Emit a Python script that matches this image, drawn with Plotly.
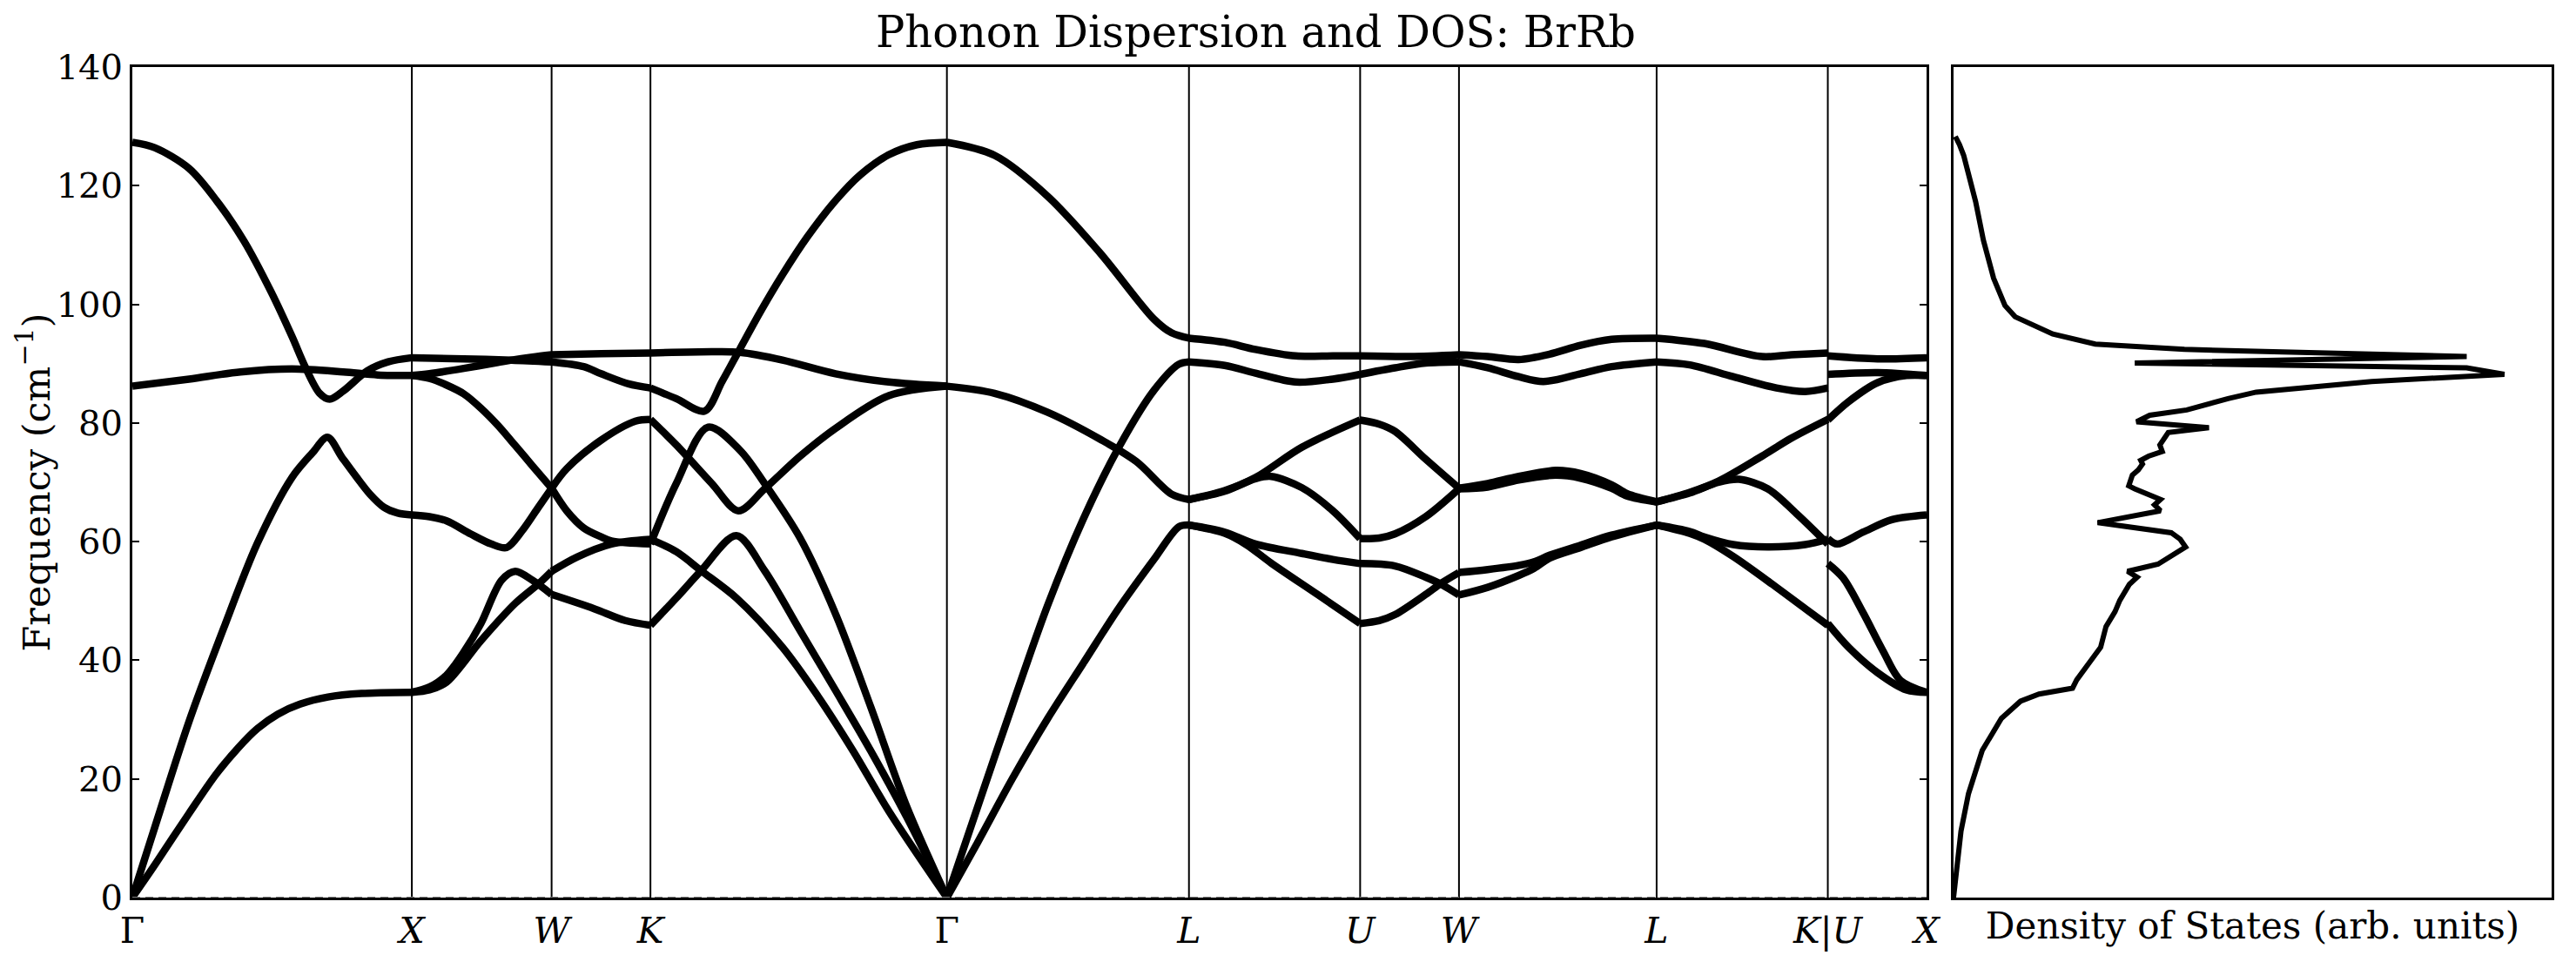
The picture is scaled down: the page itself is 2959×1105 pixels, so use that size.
import plotly.graph_objects as go

# ---------------- data ----------------
q_ticks = [0.0, 1.0, 1.5, 1.8536, 2.9142, 3.7802, 4.3926, 4.7462, 5.4533, 6.0657, 6.4193]
q_labels = ["Γ", "<i>X</i>", "<i>W</i>", "<i>K</i>", "Γ", "<i>L</i>", "<i>U</i>",
            "<i>W</i>", "<i>L</i>", "<i>K</i>|<i>U</i>", "<i>X</i>"]
freq_ticks = [0, 20, 40, 60, 80, 100, 120, 140]

# Γ – X
seg_GX = [
    ([0, 0.08, 0.203, 0.301, 0.399, 0.4975, 0.571, 0.62, 0.67, 0.706, 0.755, 0.841, 0.915, 1.0],
     [127.3, 126.4, 122.9, 117.5, 110.7, 102.0, 94.6, 89.3, 85.0, 84.0, 85.4, 88.8, 90.3, 91.0]),
    ([0, 0.203, 0.387, 0.571, 0.755, 0.878, 1.0],
     [86.2, 87.4, 88.6, 89.1, 88.6, 88.1, 88.0]),
    ([0, 0.08, 0.203, 0.326, 0.448, 0.571, 0.645, 0.698, 0.75, 0.80, 0.85, 0.90, 0.95, 1.0],
     [0, 11.8, 29.7, 45.3, 59.8, 70.8, 75.0, 77.6, 74.2, 71.0, 68.0, 65.8, 64.8, 64.5]),
    ([0, 0.08, 0.203, 0.30, 0.38, 0.448, 0.52, 0.60, 0.70, 0.82, 1.0],
     [0, 5.5, 14.2, 20.8, 25.3, 28.5, 30.9, 32.6, 33.8, 34.4, 34.6]),
]
# X – W
seg_XW = [
    ([1.0, 1.186, 1.357, 1.5], [91.0, 90.8, 90.6, 90.3]),
    ([1.0, 1.063, 1.186, 1.308, 1.357, 1.431, 1.5], [88.0, 88.3, 89.2, 90.2, 90.6, 91.1, 91.5]),
    ([1.0, 1.063, 1.124, 1.186, 1.247, 1.308, 1.37, 1.431, 1.5],
     [88.0, 87.5, 86.4, 84.9, 82.5, 79.6, 76.2, 72.8, 69.0]),
    ([1.0, 1.063, 1.124, 1.21, 1.284, 1.339, 1.394, 1.45, 1.5],
     [64.5, 64.2, 63.5, 61.3, 59.6, 59.0, 61.8, 65.6, 69.0]),
    ([1.0, 1.063, 1.124, 1.186, 1.247, 1.321, 1.37, 1.431, 1.5],
     [34.6, 35.5, 37.5, 41.4, 46.2, 53.5, 55.0, 53.5, 51.1]),
    ([1.0, 1.063, 1.124, 1.247, 1.37, 1.456, 1.5],
     [34.6, 35.0, 36.3, 43.3, 49.6, 53.0, 55.0]),
]
# W – K
seg_WK = [
    ([1.5, 1.677, 1.8536], [91.5, 91.7, 91.8]),
    ([1.5, 1.615, 1.677, 1.775, 1.8536], [90.3, 89.5, 88.3, 86.6, 85.9]),
    ([1.5, 1.554, 1.677, 1.8, 1.8536], [69.0, 72.3, 77.1, 80.3, 80.6]),
    ([1.5, 1.554, 1.615, 1.677, 1.714, 1.8536], [69.0, 65.2, 62.3, 60.8, 60.1, 59.6]),
    ([1.5, 1.591, 1.714, 1.8536], [55.0, 57.4, 59.6, 60.4]),
    ([1.5, 1.652, 1.763, 1.8536], [51.1, 48.7, 46.7, 45.9]),
]
# K – Γ
seg_KG = [
    ([1.8536, 2.073, 2.174, 2.326, 2.516, 2.706, 2.9142], [91.8, 92.0, 91.9, 90.6, 88.3, 86.9, 86.2]),
    ([1.8536, 1.946, 2.047, 2.110, 2.174, 2.250, 2.326, 2.414, 2.516, 2.604, 2.706, 2.807, 2.9142],
     [85.9, 84.1, 82.0, 87.0, 92.5, 99.0, 105.0, 111.3, 117.5, 121.8, 125.2, 126.9, 127.3]),
    ([1.8536, 1.946, 2.073, 2.168, 2.262, 2.389, 2.516, 2.706, 2.9142],
     [80.6, 76.3, 69.8, 65.2, 68.9, 74.4, 79.1, 84.6, 86.2]),
    ([1.8536, 1.946, 2.06, 2.174, 2.262, 2.389, 2.516, 2.642, 2.769, 2.9142],
     [59.6, 69.8, 79.3, 75.4, 69.8, 60.6, 47.8, 32.1, 15.5, 0]),
    ([1.8536, 1.946, 2.035, 2.161, 2.326, 2.452, 2.579, 2.706, 2.9142],
     [60.4, 58.3, 55.1, 50.5, 42.2, 34.0, 24.7, 14.6, 0]),
    ([1.8536, 1.946, 2.035, 2.161, 2.262, 2.389, 2.516, 2.642, 2.769, 2.9142],
     [45.9, 50.5, 55.1, 61.0, 55.1, 45.0, 34.9, 24.7, 13.7, 0]),
]
# Γ – L
seg_GL = [
    ([2.9142, 3.085, 3.275, 3.465, 3.655, 3.718, 3.7802], [127.3, 125.1, 118.2, 108.5, 97.5, 95.2, 94.3]),
    ([2.9142, 3.085, 3.275, 3.465, 3.592, 3.718, 3.7802], [86.2, 85.0, 81.8, 77.2, 73.5, 68.0, 67.1]),
    ([2.9142, 3.022, 3.149, 3.275, 3.402, 3.528, 3.655, 3.744, 3.7802],
     [0, 15.0, 32.5, 49.3, 63.8, 75.8, 85.5, 89.9, 90.3]),
    ([2.9142, 3.022, 3.149, 3.275, 3.402, 3.528, 3.655, 3.744, 3.7802],
     [0, 9.1, 20.1, 30.2, 39.5, 48.7, 57.0, 62.5, 62.8]),
]
# L – U
seg_LU = [
    ([3.7802, 3.908, 4.018, 4.162, 4.295, 4.3926], [94.3, 93.6, 92.4, 91.3, 91.3, 91.3]),
    ([3.7802, 3.908, 4.018, 4.162, 4.295, 4.3926], [90.3, 89.7, 88.4, 86.9, 87.4, 88.2]),
    ([3.7802, 3.908, 4.018, 4.184, 4.3926], [67.1, 68.6, 70.8, 75.9, 80.5]),
    ([3.7802, 3.908, 4.018, 4.074, 4.184, 4.295, 4.3926], [67.1, 68.5, 70.6, 71.0, 69.1, 65.2, 60.5]),
    ([3.7802, 3.908, 4.018, 4.184, 4.295, 4.3926], [62.8, 61.6, 59.6, 58.0, 57.0, 56.3]),
    ([3.7802, 3.908, 3.985, 4.074, 4.24, 4.3926], [62.8, 61.4, 59.5, 56.4, 51.1, 46.2]),
]
# U – W
seg_UW = [
    ([4.3926, 4.572, 4.7462], [91.3, 91.2, 91.5]),
    ([4.3926, 4.517, 4.627, 4.7462], [88.2, 89.3, 90.1, 90.3]),
    ([4.3926, 4.461, 4.517, 4.627, 4.7462], [80.5, 79.8, 78.6, 73.9, 69.0]),
    ([4.3926, 4.461, 4.517, 4.627, 4.7462], [60.5, 60.6, 61.3, 64.2, 68.9]),
    ([4.3926, 4.517, 4.627, 4.683, 4.7462], [56.3, 55.9, 54.0, 52.8, 51.0]),
    ([4.3926, 4.461, 4.517, 4.627, 4.683, 4.7462], [46.2, 46.7, 47.7, 51.1, 53.0, 54.8]),
]
# W – L
seg_WL = [
    ([4.7462, 4.849, 4.960, 5.070, 5.181, 5.292, 5.4533], [91.5, 91.2, 90.7, 91.6, 93.1, 94.1, 94.3]),
    ([4.7462, 4.849, 4.960, 5.048, 5.181, 5.292, 5.4533], [90.3, 89.3, 87.8, 87.0, 88.3, 89.5, 90.3]),
    ([4.7462, 4.849, 4.960, 5.092, 5.181, 5.292, 5.347, 5.4533], [69.0, 69.8, 71.0, 72.0, 71.5, 69.6, 68.1, 66.7]),
    ([4.7462, 4.849, 4.960, 5.092, 5.181, 5.292, 5.347, 5.4533], [68.9, 69.2, 70.4, 71.2, 70.7, 69.0, 67.7, 66.7]),
    ([4.7462, 4.849, 4.960, 5.015, 5.070, 5.181, 5.292, 5.4533], [54.8, 55.3, 56.0, 56.6, 57.7, 59.4, 61.1, 62.8]),
    ([4.7462, 4.849, 4.960, 5.015, 5.070, 5.181, 5.292, 5.4533], [51.0, 52.3, 54.3, 55.5, 57.2, 59.0, 60.8, 62.8]),
]
# L – K
seg_LK = [
    ([5.4533, 5.624, 5.830, 5.934, 6.0657], [94.3, 93.4, 91.2, 91.5, 91.8]),
    ([5.4533, 5.572, 5.727, 5.882, 5.985, 6.0657], [90.3, 89.8, 87.8, 85.9, 85.3, 85.9]),
    ([5.4533, 5.572, 5.675, 5.830, 5.934, 6.0657], [66.7, 68.3, 70.2, 74.4, 77.4, 80.6]),
    ([5.4533, 5.572, 5.675, 5.748, 5.851, 5.954, 6.0657], [66.7, 68.2, 70.0, 70.5, 68.9, 64.7, 59.6]),
    ([5.4533, 5.572, 5.624, 5.727, 5.851, 5.985, 6.0657], [62.8, 61.7, 60.8, 59.5, 59.1, 59.5, 60.4]),
    ([5.4533, 5.572, 5.624, 5.727, 5.882, 5.985, 6.0657], [62.8, 61.4, 60.4, 57.5, 52.3, 48.7, 45.9]),
]
# U – X
seg_UX = [
    ([6.0657, 6.244, 6.4193], [91.3, 90.8, 91.0]),
    ([6.0657, 6.244, 6.4193], [88.2, 88.5, 88.0]),
    ([6.0657, 6.140, 6.244, 6.347, 6.4193], [80.5, 83.6, 86.8, 88.0, 88.0]),
    ([6.0657, 6.099, 6.192, 6.295, 6.4193], [60.5, 59.6, 61.6, 63.7, 64.5]),
    ([6.0657, 6.120, 6.192, 6.264, 6.326, 6.4193], [56.3, 53.9, 48.0, 41.5, 36.6, 34.6]),
    ([6.0657, 6.140, 6.244, 6.347, 6.4193], [46.2, 42.2, 37.9, 35.0, 34.6]),
]

# Density of states (arb. units) vs frequency
dos_freq = [0.0, 3.0, 5.4, 11.2, 17.5, 24.8, 30.2, 33.1, 34.3, 35.3, 36.7, 40.4, 42.2, 45.7, 48.2,
            50.1, 52.8, 54.0, 55.0, 56.2, 57.9, 59.1, 60.4, 61.5, 63.2, 65.2, 66.2, 67.1, 68.9,
            69.4, 71.2, 72.1, 73.1, 73.7, 74.4, 75.2, 76.3, 77.7, 78.4, 79.2, 80.2, 81.3, 82.2,
            84.1, 85.2, 87.0, 88.2, 89.3, 90.1, 91.2, 92.4, 93.3, 95.0, 97.9, 99.8, 104.4,
            110.8, 117.3, 121.4, 125.1, 126.9, 128.3]
dos_value = [0.0, 0.003, 0.005, 0.0125, 0.025, 0.048, 0.080, 0.112, 0.143, 0.199, 0.206, 0.233,
             0.246, 0.255, 0.270, 0.278, 0.294, 0.307, 0.291, 0.342, 0.370, 0.388, 0.379, 0.364,
             0.241, 0.346, 0.336, 0.346, 0.303, 0.293, 0.299, 0.309, 0.316, 0.313, 0.326, 0.349,
             0.345, 0.356, 0.359, 0.427, 0.306, 0.328, 0.390, 0.459, 0.506, 0.699, 0.921, 0.858,
             0.303, 0.858, 0.386, 0.237, 0.166, 0.103, 0.086, 0.067, 0.050, 0.037, 0.027, 0.017,
             0.010, 0.003]

title_text = "Phonon Dispersion and DOS: BrRb"
ylabel_text = "Frequency (cm<sup>−1</sup>)"
dos_label_text = "Density of States (arb. units)"

# ---------------- figure ----------------
W, H = 2959, 1105
ML, MR, MT, MB = 152, 16, 77, 68
plot_w = W - ML - MR
main_right = (2222 - ML) / plot_w
dos_left = (2253 - ML) / plot_w

FONT = "DejaVu Serif"
fig = go.Figure()

segments = [seg_GX, seg_XW, seg_WK, seg_KG, seg_GL, seg_LU, seg_UW, seg_WL, seg_LK, seg_UX]
for seg in segments:
    for q, f in seg:
        fig.add_trace(go.Scatter(
            x=q, y=f, mode="lines", xaxis="x", yaxis="y",
            line=dict(color="black", width=8.5, shape="spline", smoothing=0.9),
            showlegend=False, hoverinfo="skip"))

# zero line (dashed)
fig.add_trace(go.Scatter(x=[q_ticks[0], q_ticks[-1]], y=[0, 0], mode="lines",
                         xaxis="x", yaxis="y",
                         line=dict(color="gray", width=2, dash="9px,6px"),
                         showlegend=False, hoverinfo="skip"))

fig.add_trace(go.Scatter(x=dos_value, y=dos_freq, mode="lines", xaxis="x2", yaxis="y2",
                         line=dict(color="black", width=6),
                         showlegend=False, hoverinfo="skip"))

shapes = []
for qv in q_ticks[1:-1]:
    shapes.append(dict(type="line", xref="x", yref="y", x0=qv, x1=qv, y0=0, y1=140,
                       line=dict(color="black", width=2), layer="below"))

fig.update_layout(
    width=W, height=H,
    margin=dict(l=ML, r=MR, t=MT, b=MB),
    paper_bgcolor="white", plot_bgcolor="white",
    font=dict(family=FONT, size=40, color="black"),
    shapes=shapes,
    title=dict(text=title_text, x=(1448 - ML) / plot_w, xref="paper", xanchor="center",
               y=1 - 37 / H, yref="container", yanchor="middle",
               font=dict(family=FONT, size=49.5, color="black")),
    xaxis=dict(domain=[0, main_right], range=[q_ticks[0], q_ticks[-1]],
               tickmode="array", tickvals=q_ticks, ticktext=q_labels, ticks="",
               showline=True, mirror=True, linecolor="black", linewidth=3,
               showgrid=False, zeroline=False,
               tickfont=dict(family=FONT, size=41, color="black")),
    yaxis=dict(domain=[0, 1], range=[0, 140], tickmode="array", tickvals=freq_ticks,
               ticks="inside", ticklen=8, tickwidth=1.5, tickcolor="black",
               showline=True, mirror="ticks", linecolor="black", linewidth=3,
               showgrid=False, zeroline=False,
               tickfont=dict(family=FONT, size=40, color="black")),
    xaxis2=dict(domain=[dos_left, 1], range=[0, 1], anchor="y2",
                showticklabels=False, ticks="", showline=True, mirror=True,
                linecolor="black", linewidth=3, showgrid=False, zeroline=False,
                title=dict(text=dos_label_text, standoff=16,
                           font=dict(family=FONT, size=42, color="black"))),
    yaxis2=dict(domain=[0, 1], range=[0, 140], anchor="x2",
                showticklabels=False, ticks="", showline=True, mirror=True,
                linecolor="black", linewidth=3, showgrid=False, zeroline=False),
    annotations=[dict(text=ylabel_text, xref="paper", yref="paper",
                      x=(38 - ML) / plot_w, y=0.5, xanchor="center", yanchor="middle",
                      textangle=-90, showarrow=False,
                      font=dict(family=FONT, size=43, color="black"))],
)

fig.write_html("out.html")
